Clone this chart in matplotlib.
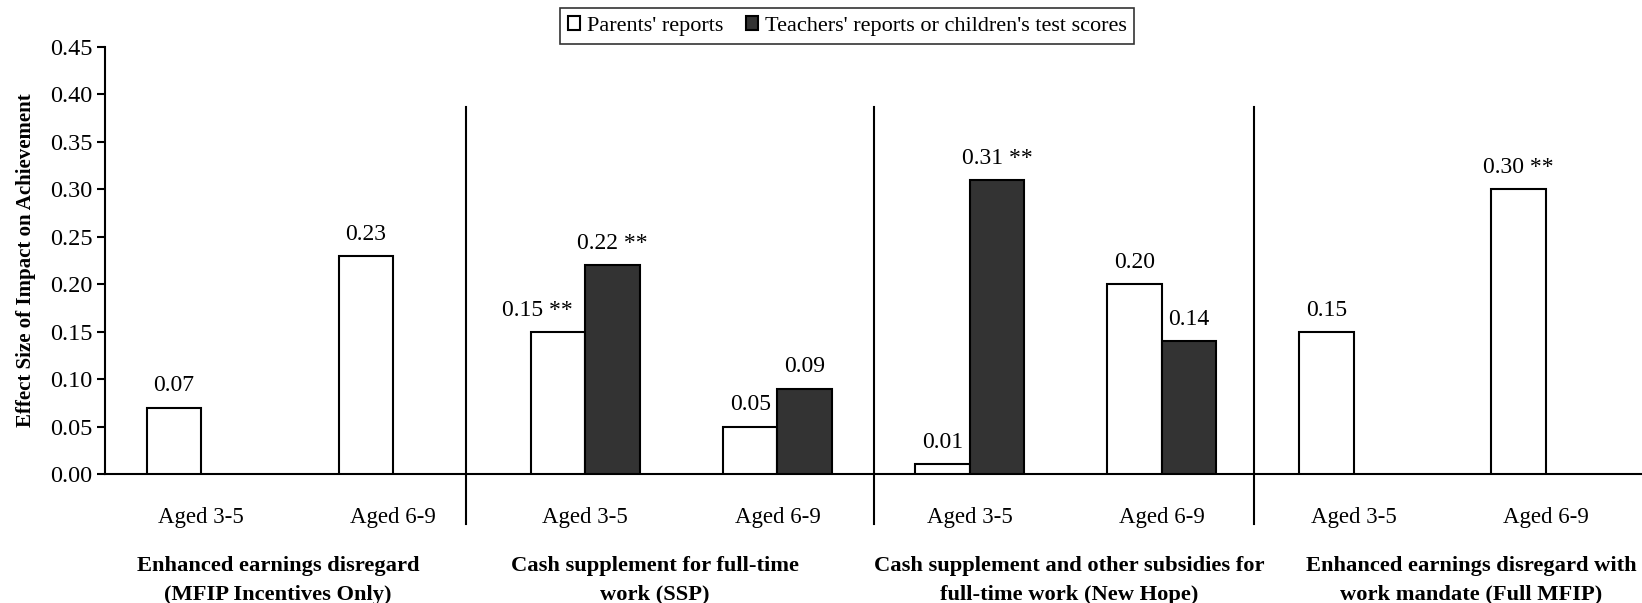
import matplotlib
matplotlib.use('Agg')
import matplotlib.pyplot as plt
import matplotlib.ticker as ticker
import numpy as np

plt.rcParams['font.family'] = ['Liberation Serif', 'DejaVu Serif']

# Data
age_labels = ['Aged 3-5', 'Aged 6-9', 'Aged 3-5', 'Aged 6-9',
              'Aged 3-5', 'Aged 6-9', 'Aged 3-5', 'Aged 6-9']
parents = [0.07, 0.23, 0.15, 0.05, 0.01, 0.20, 0.15, 0.30]
parents_sig = ['', '', ' **', '', '', '', '', ' **']
teachers = [None, None, 0.22, 0.09, 0.31, 0.14, None, None]
teachers_sig = ['', '', ' **', '', ' **', '', '', '']
group_labels = ['Enhanced earnings disregard\n(MFIP Incentives Only)',
                'Cash supplement for full-time\nwork (SSP)',
                'Cash supplement and other subsidies for\nfull-time work (New Hope)',
                'Enhanced earnings disregard with\nwork mandate (Full MFIP)']
group_label_x = [0.40, 2.36, 4.52, 6.61]
separator_x = [1.38, 3.50, 5.48]

fig = plt.figure(figsize=(16.42, 6.03), dpi=100)
ax = fig.add_axes([0.064, 0.214, 0.936, 0.708])

x = np.arange(len(age_labels))
w = 0.284

ax.bar(x - w / 2, parents, w, color='white', edgecolor='black', linewidth=1.5,
       label="Parents' reports", zorder=3)
t_idx = [i for i, v in enumerate(teachers) if v is not None]
t_val = [teachers[i] for i in t_idx]
ax.bar(x[t_idx] + w / 2, t_val, w, color='#333333', edgecolor='black', linewidth=1.5,
       label="Teachers' reports or children's test scores", zorder=3)

# the SSP 3-5 parents label is nudged left so it clears the dark bar
nudge = {2: -15}
for i, v in enumerate(parents):
    ax.annotate(f'{v:.2f}{parents_sig[i]}', (x[i] - w / 2, v), xytext=(nudge.get(i, 0), 8),
                textcoords='offset points', ha='center', va='bottom', fontsize=17)
for i in t_idx:
    v = teachers[i]
    ax.annotate(f'{v:.2f}{teachers_sig[i]}', (x[i] + w / 2, v), xytext=(0, 8),
                textcoords='offset points', ha='center', va='bottom', fontsize=17)

for sx in separator_x:
    ax.plot([sx, sx], [-0.053, 0.387], color='black', linewidth=1.5, clip_on=False)

ax.set_xlim(-0.5, 7.5)
ax.set_ylim(0, 0.45)
ax.set_yticks(np.arange(0, 0.451, 0.05))
ax.yaxis.set_major_formatter(ticker.FormatStrFormatter('%.2f'))
ax.set_xticks(x)
ax.set_xticklabels(age_labels)
ax.tick_params(axis='x', length=0, pad=24, labelsize=16.5)
ax.tick_params(axis='y', length=6, width=1.5, labelsize=17.5, pad=3)

for s in ['top', 'right']:
    ax.spines[s].set_visible(False)
ax.spines['left'].set_linewidth(1.5)
ax.spines['bottom'].set_linewidth(1.5)

for gx, gl in zip(group_label_x, group_labels):
    ax.text(gx, -0.086, gl, ha='center', va='top', fontsize=16.2, fontweight='bold',
            linespacing=1.6, clip_on=False)

ax.set_ylabel('Effect Size of Impact on Achievement', fontsize=15, fontweight='bold',
              labelpad=10)

leg = fig.legend(loc='upper center', bbox_to_anchor=(0.516, 0.986), ncol=2,
                 fontsize=16, frameon=True, fancybox=False, edgecolor='black',
                 handlelength=0.55, handleheight=0.55, handletextpad=0.3,
                 columnspacing=1.0, borderpad=0.35, borderaxespad=0)
leg.get_frame().set_linewidth(1.2)

fig.savefig('out.png', dpi=100)
